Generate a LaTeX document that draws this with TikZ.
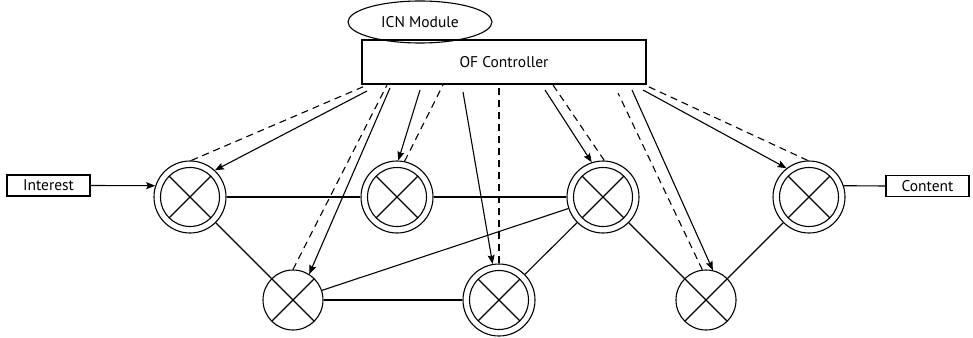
\documentclass[tikz,border=0pt]{standalone}
\usepackage{fontspec}
\setmainfont{PT Sans}
\usetikzlibrary{arrows.meta,shapes.geometric}
\tikzset{
  lw/.style={line width=1.1pt},
  dsw/.style={circle, draw, lw, minimum size=72pt, inner sep=0pt,
    path picture={
      \draw[lw] (path picture bounding box.center) circle[radius=29.5pt];
      \draw[lw] (path picture bounding box.center) ++(45:29.5pt) -- ++(225:59pt);
      \draw[lw] (path picture bounding box.center) ++(135:29.5pt) -- ++(-45:59pt);
    }},
  ssw/.style={circle, draw, lw, minimum size=60pt, inner sep=0pt,
    path picture={
      \draw[lw] (path picture bounding box.center) ++(45:30pt) -- ++(225:60pt);
      \draw[lw] (path picture bounding box.center) ++(135:30pt) -- ++(-45:60pt);
    }},
  lbl/.style={draw, lw, minimum width=83pt, minimum height=21pt, inner sep=0pt},
  ctl/.style={lw, -{Stealth[length=9pt,width=7pt,inset=1.5pt]}},
  fb/.style={lw, dash pattern=on 7pt off 5pt},
  link/.style={lw},
  every node/.style={font=\fontsize{15.5}{18}\selectfont}
}
\begin{document}
\begin{tikzpicture}[x=1pt,y=-1pt]
\useasboundingbox (0,0) rectangle (973,337);
% controller and module
\node[draw, lw, minimum width=284pt, minimum height=44pt, inner sep=0pt] (ctrl) at (504,62) {OF Controller};
\node[ellipse, draw, lw, minimum width=144pt, minimum height=42pt, inner sep=0pt] (icn) at (420,22) {ICN Module};
% end boxes
\node[lbl] (int) at (48.5,185.5) {Interest};
\node[lbl] (cont) at (927.5,186) {Content};
% switches
\node[dsw] (n1) at (190,197) {};
\node[dsw] (n2) at (397,197) {};
\node[dsw] (n3) at (603,197) {};
\node[dsw] (n4) at (809,197) {};
\node[ssw] (b1) at (293,300) {};
\node[dsw] (b2) at (499,300) {};
\node[ssw] (b3) at (706,300) {};
% data links
\draw[link] (n1) -- (n2);
\draw[link] (n2) -- (n3);
\draw[link] (n1) -- (b1);
\draw[link] (b1) -- (b2);
\draw[link] (b1) -- (n3);
\draw[link] (b2) -- (n3);
\draw[link] (n3) -- (b3);
\draw[link] (b3) -- (n4);
\draw[ctl] (int.east) -- (n1.162);
\draw[link] (n4.18) -- (cont.west);
% controller attachment points
\coordinate (s1) at (367,91);  \coordinate (d1) at (365,86);
\coordinate (s2) at (390,88);  \coordinate (d2) at (387,85);
\coordinate (s3) at (420,90);  \coordinate (d3) at (443,85);
\coordinate (s4) at (463,92);  \coordinate (d4) at (499,84);
\coordinate (s5) at (545,90);  \coordinate (d5) at (553,85);
\coordinate (s6) at (632,90);  \coordinate (d6) at (618,93);
\coordinate (s7) at (643,90);  \coordinate (d7) at (647,86);
% control arrows
\draw[ctl] (s1) -- (n1.47);
\draw[ctl] (s2) -- (b1.58);
\draw[ctl] (s3) -- (n2.88);
\draw[ctl] (s4) -- (b2.100);
\draw[ctl] (s5) -- (n3.108);
\draw[ctl] (s6) -- (b3.77);
\draw[ctl] (s7) -- (n4.128);
% feedback dashed lines
\draw[fb] (n1.88) -- (d1);
\draw[fb] (b1.90) -- (d2);
\draw[fb] (n2.78) -- (d3);
\draw[fb] (b2.90) -- (d4);
\draw[fb] (n3.88) -- (d5);
\draw[fb] (b3.97) -- (d6);
\draw[fb] (n4.92) -- (d7);
\end{tikzpicture}
\end{document}
